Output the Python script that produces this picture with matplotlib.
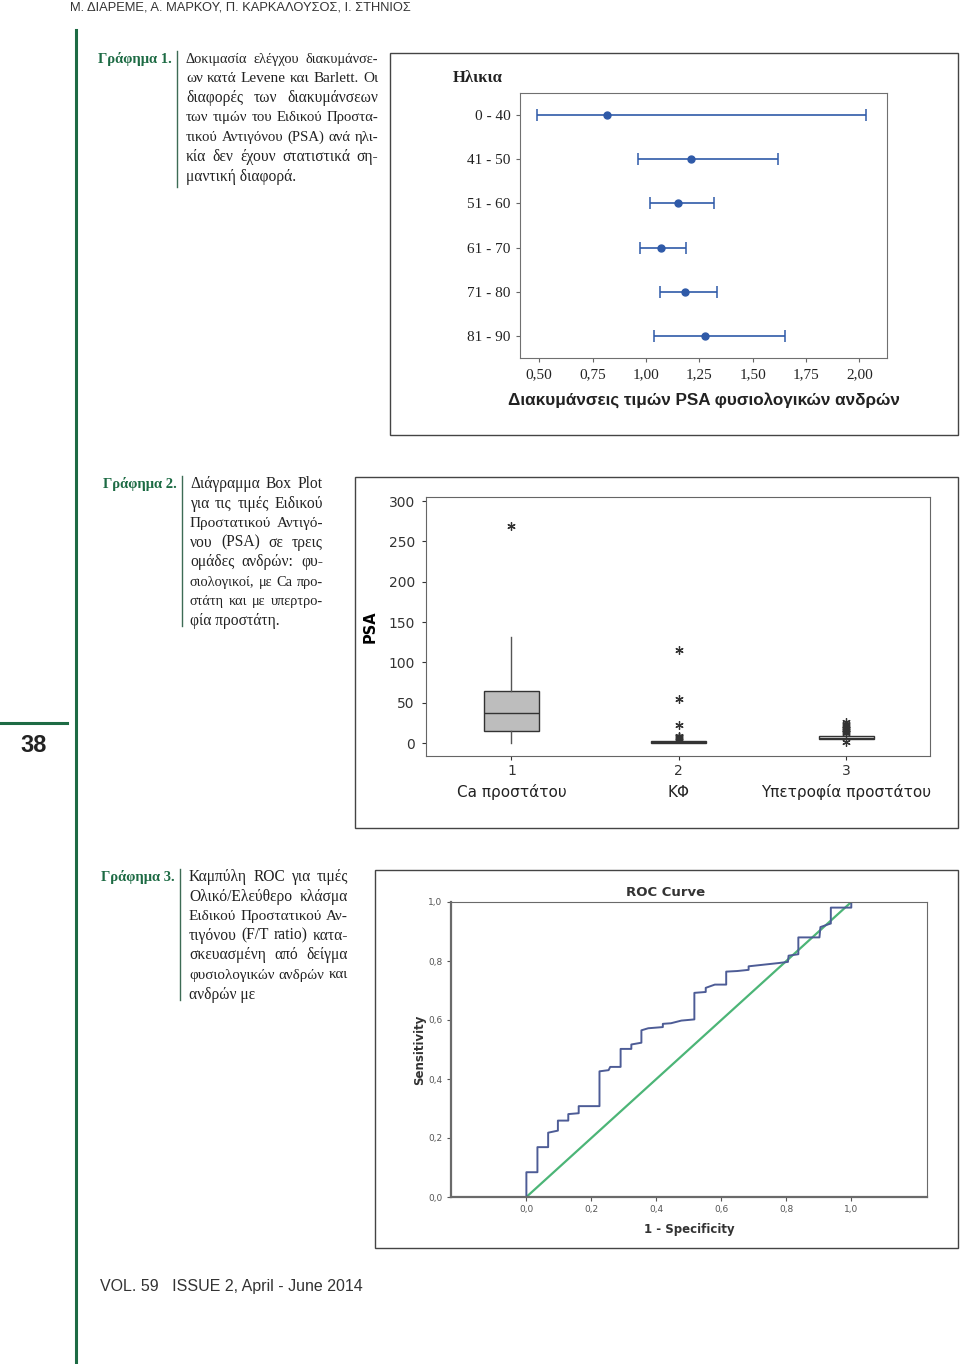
import numpy as np
import matplotlib
matplotlib.use('Agg')
import matplotlib.pyplot as plt
from matplotlib.patches import Rectangle
from matplotlib.lines import Line2D

# ---- data ----
# Γράφημα 1: διαστήματα διακυμάνσεων ανά ηλικία
age_groups = ['0 - 40', '41 - 50', '51 - 60', '61 - 70', '71 - 80', '81 - 90']
var_center = [0.816, 1.211, 1.149, 1.073, 1.185, 1.278]
var_low = [0.49, 0.965, 1.02, 0.974, 1.065, 1.038]
var_high = [2.03, 1.618, 1.317, 1.19, 1.333, 1.65]
var_ticks = [0.50, 0.75, 1.00, 1.25, 1.50, 1.75, 2.00]

# Γράφημα 2: box plot PSA
box_groups = ['Ca προστάτου', 'ΚΦ', 'Υπετροφία προστάτου']
box_q1 = [15.5, 0.5, 4.5]
box_med = [37.8, 1.2, 6.5]
box_q3 = [64.6, 2.3, 8.6]
box_lo = [0, 0, 4.5]
box_hi = [132, 4.5, 10.5]
box_fliers = [[269],
              [5, 6, 7, 8, 9, 22, 55, 115],
              [1, 13, 14, 15, 16, 17, 18, 20, 22, 24, 26]]
psa_ticks = [0, 50, 100, 150, 200, 250, 300]

# Γράφημα 3: ROC
roc_fpr = [0, 0, 0.034, 0.034, 0.067, 0.067, 0.097, 0.097, 0.129, 0.129, 0.161, 0.161,
           0.225, 0.225, 0.253, 0.258, 0.29, 0.29, 0.323, 0.323, 0.354, 0.354, 0.375,
           0.42, 0.42, 0.445, 0.477, 0.517, 0.517, 0.552, 0.552, 0.58, 0.615, 0.615,
           0.649, 0.684, 0.684, 0.776, 0.805, 0.807, 0.837, 0.837, 0.902, 0.905, 0.931,
           0.937, 0.937, 1.0, 1.0]
roc_tpr = [0, 0.084, 0.084, 0.169, 0.169, 0.218, 0.225, 0.259, 0.259, 0.281, 0.284, 0.308,
           0.308, 0.426, 0.43, 0.441, 0.441, 0.502, 0.502, 0.517, 0.523, 0.565, 0.572,
           0.576, 0.587, 0.589, 0.598, 0.602, 0.692, 0.695, 0.709, 0.72, 0.72, 0.764,
           0.766, 0.77, 0.782, 0.793, 0.797, 0.818, 0.823, 0.88, 0.88, 0.915, 0.925,
           0.927, 0.981, 0.981, 1.0]
roc_ticks = [0.0, 0.2, 0.4, 0.6, 0.8, 1.0]

cap1 = ['Δοκιμασία ελέγχου διακυμάνσε-', 'ων κατά Levene και Barlett. Οι',
        'διαφορές των διακυμάνσεων', 'των τιμών του Ειδικού Προστα-',
        'τικού Αντιγόνου (PSA) ανά ηλι-', 'κία δεν έχουν στατιστικά ση-',
        'μαντική διαφορά.']
cap2 = ['Διάγραμμα Box Plot', 'για τις τιμές Ειδικού', 'Προστατικού Αντιγό-',
        'νου (PSA) σε τρεις', 'ομάδες ανδρών: φυ-', 'σιολογικοί, με Ca προ-',
        'στάτη και με υπερτρο-', 'φία προστάτη.']
cap3 = ['Καμπύλη ROC για τιμές', 'Ολικό/Ελεύθερο κλάσμα', 'Ειδικού Προστατικού Αν-',
        'τιγόνου (F/T ratio) κατα-', 'σκευασμένη από δείγμα',
        'φυσιολογικών ανδρών και', 'ανδρών με']

W, H = 960, 1364
GREEN = '#1d6b44'
SERIF = ['Liberation Serif', 'DejaVu Serif']
SANS = ['Liberation Sans', 'DejaVu Sans']

fig = plt.figure(figsize=(W / 100, H / 100), dpi=100)
fig.patch.set_facecolor('white')
r = fig.canvas.get_renderer()


def fx(x):
    return x / W


def fy(y):
    return 1 - y / H


def box(x0, y0, x1, y1):
    return [x0 / W, 1 - y1 / H, (x1 - x0) / W, (y1 - y0) / H]


def frame(x0, y0, x1, y1):
    fig.patches.append(Rectangle((fx(x0), fy(y1)), (x1 - x0) / W, (y1 - y0) / H,
                                 transform=fig.transFigure, fill=False,
                                 edgecolor='#444444', lw=1.0))


def justify(lines, x0, x1, y0, dy, size, min_gap=4.0):
    # πλήρης στοίχιση κάθε γραμμής εκτός της τελευταίας
    for i, line in enumerate(lines):
        y = y0 + i * dy
        words = line.split(' ')
        if i == len(lines) - 1 or len(words) == 1:
            fig.text(fx(x0), fy(y), line, family=SERIF, fontsize=size,
                     va='center', ha='left', color='#222222')
            continue
        fs = size
        texts = [fig.text(0, 0, w, family=SERIF, fontsize=fs, va='center',
                          ha='left', color='#222222') for w in words]
        while True:
            widths = [t.get_window_extent(r).width for t in texts]
            gap = (x1 - x0 - sum(widths)) / (len(words) - 1)
            if gap >= min_gap or fs < 8:
                break
            fs -= 0.2
            for t in texts:
                t.set_fontsize(fs)
        x = x0
        for t, w in zip(texts, widths):
            t.set_position((fx(x), fy(y)))
            x += w + gap


def caption(label, lines, y0, sep_x, x0, x1, sep_y1):
    fig.text(fx(sep_x - 5), fy(y0), label, family=SERIF, fontsize=10.5,
             fontweight='bold', color=GREEN, ha='right', va='center')
    fig.add_artist(Line2D([fx(sep_x), fx(sep_x)], [fy(y0 - 8), fy(sep_y1)],
                          transform=fig.transFigure, color='#3d6b55', lw=1.0))
    justify(lines, x0, x1, y0, 19.6, 11.2)


# ---- page decorations ----
fig.text(fx(70), fy(8), 'Μ. ΔΙΑΡΕΜΕ, Α. ΜΑΡΚΟΥ, Π. ΚΑΡΚΑΛΟΥΣΟΣ, Ι. ΣΤΗΝΙΟΣ',
         family=SANS, fontsize=9.3, color='#333333', va='center', ha='left')
fig.add_artist(Line2D([fx(76), fx(76)], [fy(30), 0], transform=fig.transFigure,
                      color=GREEN, lw=2.2))
fig.add_artist(Line2D([0, fx(67)], [fy(723), fy(723)], transform=fig.transFigure,
                      color=GREEN, lw=2.2))
fig.text(fx(34), fy(745), '38', family=SANS, fontsize=17, fontweight='bold',
         color='#222222', ha='center', va='center')
fig.text(fx(100), fy(1287), 'VOL. 59   ISSUE 2, April - June 2014', family=SANS,
         fontsize=11.5, color='#333333', ha='left', va='center')

caption('Γράφημα 1.', cap1, 59, 177, 186, 378, 187)
caption('Γράφημα 2.', cap2, 484, 182, 190, 323, 626)
caption('Γράφημα 3.', cap3, 877, 180, 189, 348, 1000)

# ---- Γράφημα 1 ----
frame(390, 53, 958, 435)
ax1 = fig.add_axes(box(520, 93, 887, 358))
ypos = np.arange(len(age_groups))
c = np.array(var_center)
ax1.errorbar(c, ypos, xerr=[c - np.array(var_low), np.array(var_high) - c],
             fmt='o', color='#2f5aa8', ms=5, lw=1.2, capsize=4.5, capthick=1.1)
ax1.set_ylim(len(age_groups) - 0.5, -0.5)
ax1.set_xlim(0.41, 2.13)
ax1.set_yticks(ypos)
ax1.set_yticklabels(age_groups, family=SERIF, fontsize=11, color='#222222')
ax1.set_xticks(var_ticks)
ax1.set_xticklabels([('%.2f' % v).replace('.', ',') for v in var_ticks],
                    family=SERIF, fontsize=11, color='#222222')
ax1.tick_params(color='#666666', length=3, pad=4)
for s in ax1.spines.values():
    s.set_color('#707070')
ax1.set_xlabel('Διακυμάνσεις τιμών PSA φυσιολογικών ανδρών', family=SANS,
               fontsize=12.3, fontweight='bold', color='#222222', labelpad=8)
fig.text(fx(478), fy(78), 'Ηλικια', family=SERIF, fontsize=12,
         fontweight='bold', color='#222222', ha='center', va='center')

# ---- Γράφημα 2 ----
frame(355, 477, 958, 828)
ax2 = fig.add_axes(box(426, 497, 930, 756))
stats = []
for i in range(3):
    stats.append(dict(q1=box_q1[i], med=box_med[i], q3=box_q3[i], whislo=box_lo[i],
                      whishi=box_hi[i], fliers=box_fliers[i]))
bp = ax2.bxp(stats, positions=[1, 2, 3], widths=0.33, patch_artist=True,
             showcaps=False,
             boxprops=dict(edgecolor='#333333', lw=1.0),
             whiskerprops=dict(color='#555555', lw=1.0),
             medianprops=dict(color='#333333', lw=1.0),
             flierprops=dict(marker=(6, 2, 0), markersize=6, markeredgecolor='#333333',
                             markeredgewidth=0.9, linestyle='none'))
for patch, col in zip(bp['boxes'], ['#bdbdbd', 'white', 'white']):
    patch.set_facecolor(col)
ax2.set_xlim(0.49, 3.5)
ax2.set_ylim(-16, 305)
ax2.set_yticks(psa_ticks)
ax2.set_xticks([1, 2, 3])
ax2.set_xticklabels(['1', '2', '3'])
ax2.tick_params(labelsize=10, colors='#333333', length=3, pad=5)
ax2.tick_params(axis='x', pad=3)
for s in ax2.spines.values():
    s.set_color('#666666')
for i, name in enumerate(box_groups):
    ax2.text(i + 1, -0.14, name, transform=ax2.get_xaxis_transform(), ha='center',
             va='center', fontsize=11, color='#222222')
ax2.set_ylabel('PSA', fontsize=10.5, fontweight='bold', labelpad=8)

# ---- Γράφημα 3 ----
frame(375, 870, 958, 1248)
ax3 = fig.add_axes(box(451, 902, 927, 1197))
ax3.plot([0, 1], [0, 1], color='#4cb577', lw=1.6)
ax3.plot(roc_fpr, roc_tpr, color='#4d5c96', lw=1.4)
ax3.set_xlim(-0.232, 1.233)
ax3.set_ylim(0, 1)
ax3.set_xticks(roc_ticks)
ax3.set_yticks(roc_ticks)
lbl = [('%.1f' % v).replace('.', ',') for v in roc_ticks]
ax3.set_xticklabels(lbl)
ax3.set_yticklabels(lbl)
ax3.tick_params(labelsize=6.5, colors='#555555', length=3, width=0.8, pad=3)
for s in ax3.spines.values():
    s.set_color('#6a6a6a')
ax3.spines['left'].set_linewidth(1.6)
ax3.spines['bottom'].set_linewidth(1.6)
ax3.set_title('ROC Curve', fontsize=9.5, fontweight='bold', color='#333333', pad=4,
              x=0.45)
ax3.set_xlabel('1 - Specificity', fontsize=8.5, fontweight='bold', color='#333333',
               labelpad=6)
ax3.set_ylabel('Sensitivity', fontsize=8.5, fontweight='bold', color='#333333',
               labelpad=2)

fig.savefig('out.png', dpi=100)
